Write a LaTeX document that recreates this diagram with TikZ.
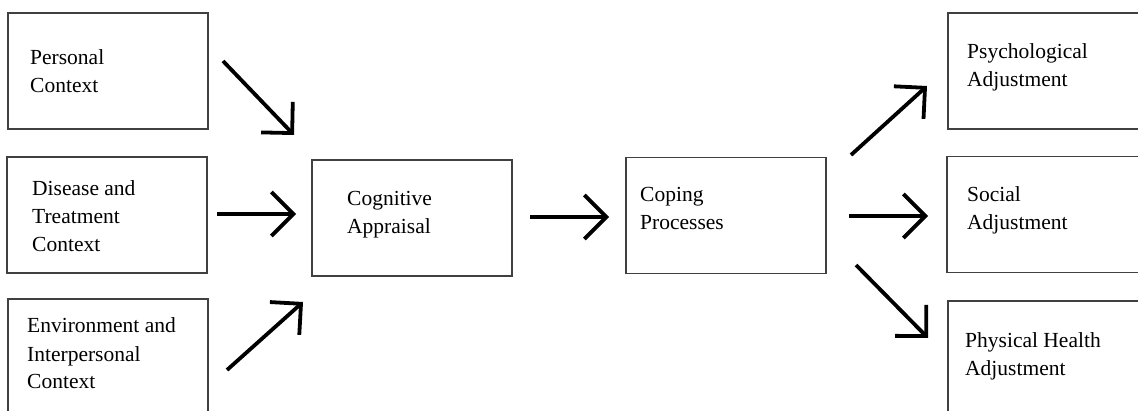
\documentclass[tikz,border=0pt]{standalone}
\usepackage{fontspec}
\setmainfont{Liberation Serif}
\usetikzlibrary{arrows.meta}
\begin{document}
\begin{tikzpicture}[x=1pt,y=-1pt,
  box/.style={draw=black!75, line width=1.3pt, minimum width=200pt, minimum height=116pt, inner sep=0pt},
  lbl/.style={anchor=base west, align=left, inner sep=0pt, font=\fontsize{21.5}{28}\selectfont},
  flow/.style={line width=3.8pt, -{Straight Barb[length=22pt,width=44pt,line width=3.8pt]}}]
\useasboundingbox (0,0) rectangle (1138,411);
% boxes
\node[box] (personal) at (108,71) {};
\node[box] (disease) at (107,215) {};
\node[box] (environ) at (108,357) {};
\node[box] (cognitive) at (412,218) {};
\node[box] (coping) at (726,215.5) {};
\node[box] (psych) at (1048,71) {};
\node[box] (social) at (1047,214.5) {};
\node[box] (physical) at (1048,359) {};
% labels (anchored at the baseline of the last line)
\node[lbl] (tpersonal) at (30,93) {Personal\\Context};
\node[lbl] (tdisease) at (32,252) {Disease and\\Treatment\\Context};
\node[lbl] (tenviron) at (27,389) {Environment and\\Interpersonal\\Context};
\node[lbl] (tcognitive) at (347,234) {Cognitive\\Appraisal};
\node[lbl] (tcoping) at (640,230) {Coping\\Processes};
\node[lbl] (tpsych) at (967,87) {Psychological\\Adjustment};
\node[lbl] (tsocial) at (967,230) {Social\\Adjustment};
\node[lbl] (tphysical) at (965,376) {Physical Health\\Adjustment};
% arrow end points
\coordinate (p1s) at (223,61);  \coordinate (p1e) at (294,135);
\coordinate (p2s) at (217,214); \coordinate (p2e) at (296,214);
\coordinate (p3s) at (227,370); \coordinate (p3e) at (303,302);
\coordinate (p4s) at (530,217); \coordinate (p4e) at (609,217);
\coordinate (p5s) at (851,155); \coordinate (p5e) at (927,86);
\coordinate (p6s) at (849,216); \coordinate (p6e) at (928,216);
\coordinate (p7s) at (856,265); \coordinate (p7e) at (928,338);
% arrows
\draw[flow] (p1s) -- (p1e);
\draw[flow] (p2s) -- (p2e);
\draw[flow] (p3s) -- (p3e);
\draw[flow] (p4s) -- (p4e);
\draw[flow] (p5s) -- (p5e);
\draw[flow] (p6s) -- (p6e);
\draw[flow] (p7s) -- (p7e);
\end{tikzpicture}
\end{document}
